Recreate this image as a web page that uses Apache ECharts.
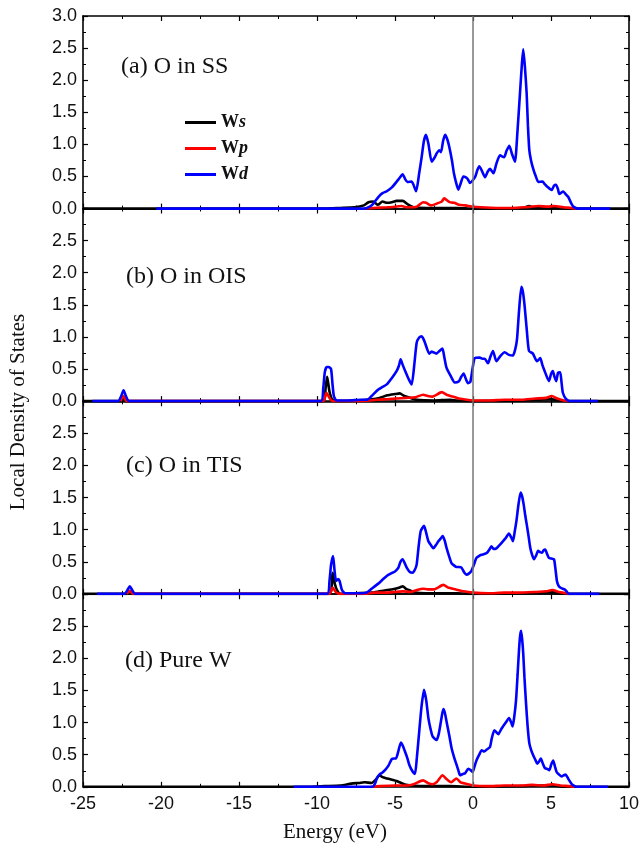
<!DOCTYPE html>
<html>
<head>
<meta charset="utf-8">
<title>Local Density of States</title>
<script src="https://cdn.jsdelivr.net/npm/echarts@6.0.0/dist/echarts.min.js"></script>
<style>
  html, body { margin: 0; padding: 0; background: #fff; }
  #chart { width: 642px; height: 847px; }
</style>
</head>
<body>
<div id="chart"></div>
<script>
// energy range (eV) and y range shared by all four panels
const energyRange = [-25, 10]
const dosRange = [0, 3]
const orbitals = ['Ws', 'Wp', 'Wd']
const panelLabels = ['(a) O in SS', '(b) O in OIS', '(c) O in TIS', '(d) Pure W']

// (a) O in SS  -- [energy, dos]
const ssWs = [[-25, 0], [-9.5, 0], [-8.5, 0.01], [-7.6, 0.02], [-7.0, 0.05], [-6.7, 0.1], [-6.4, 0.11], [-6.1, 0.06], [-5.8, 0.11], [-5.5, 0.09], [-5.2, 0.1], [-4.9, 0.12], [-4.5, 0.12], [-4.2, 0.07], [-3.8, 0.02], [-3.0, 0.01], [-1, 0.01], [0, 0], [3.2, 0.01], [3.6, 0.04], [3.9, 0.01], [5, 0.01], [6, 0], [10, 0]]
const ssWp = [[-7, 0], [-6.4, 0.01], [-5.5, 0.02], [-5.0, 0.03], [-4.6, 0.04], [-4.2, 0.02], [-3.6, 0.03], [-3.2, 0.1], [-3.0, 0.09], [-2.7, 0.05], [-2.4, 0.07], [-2.0, 0.11], [-1.85, 0.16], [-1.5, 0.1], [-1.2, 0.09], [-0.9, 0.06], [-0.5, 0.05], [0, 0.03], [0.5, 0.02], [1.5, 0.01], [2.5, 0.01], [3.3, 0.02], [3.7, 0.03], [4.2, 0.04], [4.8, 0.03], [5.2, 0.04], [5.8, 0.02], [6.3, 0.01], [6.6, 0]]
const ssWd = [[-20.3, 0], [-7.0, 0], [-6.8, 0.01], [-6.5, 0.05], [-6.07, 0.18], [-5.8, 0.24], [-5.53, 0.27], [-5.2, 0.33], [-4.89, 0.42], [-4.7, 0.48], [-4.51, 0.535], [-4.35, 0.46], [-4.21, 0.415], [-3.93, 0.42], [-3.65, 0.27], [-3.45, 0.55], [-3.29, 0.805], [-3.15, 1.05], [-3.01, 1.15], [-2.85, 1.0], [-2.65, 0.73], [-2.45, 0.8], [-2.33, 0.86], [-2.16, 0.91], [-2.05, 0.88], [-1.92, 1.05], [-1.79, 1.15], [-1.65, 1.08], [-1.52, 0.96], [-1.35, 0.75], [-1.22, 0.545], [-1.08, 0.4], [-0.94, 0.295], [-0.78, 0.4], [-0.62, 0.5], [-0.48, 0.49], [-0.34, 0.46], [-0.19, 0.4], [0.13, 0.49], [0.28, 0.6], [0.40, 0.66], [0.55, 0.6], [0.77, 0.49], [0.95, 0.58], [1.09, 0.62], [1.31, 0.55], [1.5, 0.7], [1.73, 0.83], [1.99, 0.8], [2.15, 0.9], [2.33, 0.98], [2.5, 0.85], [2.69, 0.73], [2.85, 1.2], [3.01, 1.79], [3.12, 2.2], [3.22, 2.48], [3.33, 2.2], [3.44, 1.79], [3.52, 1.3], [3.61, 0.91], [3.72, 0.75], [3.86, 0.62], [4.0, 0.52], [4.19, 0.415], [4.46, 0.42], [4.6, 0.38], [4.76, 0.34], [5.04, 0.29], [5.2, 0.36], [5.32, 0.37], [5.45, 0.3], [5.53, 0.23], [5.79, 0.265], [5.95, 0.22], [6.11, 0.18], [6.3, 0.08], [6.43, 0.03], [6.75, 0], [8.8, 0]]

// (b) O in OIS
const oisWs = [[-25, 0], [-22.5, 0], [-22.37, 0.03], [-22.25, 0], [-9.6, 0], [-9.45, 0.2], [-9.35, 0.38], [-9.2, 0.15], [-9.0, 0.02], [-8.5, 0], [-7.5, 0.01], [-6.5, 0.03], [-6.0, 0.05], [-5.5, 0.09], [-5.0, 0.11], [-4.7, 0.12], [-4.4, 0.08], [-4.0, 0.05], [-3.6, 0.02], [-2.5, 0.01], [-1.5, 0.02], [-1, 0.01], [0, 0], [3, 0.01], [4, 0.02], [5, 0.03], [5.5, 0.01], [6, 0], [10, 0]]
const oisWp = [[-22.6, 0], [-22.4, 0.08], [-22.2, 0], [-9.6, 0], [-9.4, 0.13], [-9.2, 0.05], [-9.0, 0], [-7, 0], [-6.2, 0.02], [-5.5, 0.03], [-4.9, 0.04], [-4.3, 0.05], [-3.7, 0.06], [-3.2, 0.1], [-2.9, 0.08], [-2.6, 0.07], [-2.0, 0.14], [-1.7, 0.1], [-1.3, 0.07], [-0.9, 0.04], [-0.4, 0.02], [0, 0.01], [1, 0.01], [2, 0.02], [3, 0.02], [4, 0.04], [4.7, 0.05], [5.05, 0.08], [5.4, 0.04], [5.8, 0.01], [6.1, 0]]
const oisWd = [[-24.4, 0], [-22.75, 0], [-22.55, 0.08], [-22.4, 0.17], [-22.25, 0.08], [-22.05, 0], [-9.75, 0], [-9.6, 0.2], [-9.5, 0.45], [-9.38, 0.53], [-9.25, 0.53], [-9.1, 0.5], [-9.0, 0.25], [-8.92, 0.08], [-8.75, 0.01], [-8.0, 0.01], [-7.2, 0.02], [-6.8, 0.02], [-6.5, 0.08], [-6.07, 0.18], [-5.8, 0.22], [-5.53, 0.26], [-5.2, 0.36], [-4.89, 0.47], [-4.75, 0.55], [-4.64, 0.65], [-4.5, 0.56], [-4.3, 0.44], [-4.1, 0.33], [-3.93, 0.26], [-3.75, 0.6], [-3.61, 0.91], [-3.45, 0.99], [-3.29, 1.01], [-3.18, 0.97], [-3.08, 0.91], [-2.8, 0.74], [-2.65, 0.77], [-2.54, 0.76], [-2.35, 0.74], [-2.15, 0.78], [-1.96, 0.82], [-1.85, 0.7], [-1.7, 0.52], [-1.45, 0.4], [-1.17, 0.29], [-0.9, 0.31], [-0.75, 0.38], [-0.6, 0.43], [-0.45, 0.34], [-0.32, 0.28], [-0.17, 0.3], [0.0, 0.55], [0.11, 0.67], [0.43, 0.68], [0.6, 0.66], [0.75, 0.66], [0.96, 0.59], [1.1, 0.68], [1.28, 0.78], [1.5, 0.62], [1.75, 0.7], [2.03, 0.76], [2.3, 0.72], [2.56, 0.71], [2.7, 0.8], [2.82, 0.96], [2.95, 1.4], [3.1, 1.78], [3.2, 1.7], [3.31, 1.48], [3.45, 1.1], [3.59, 0.78], [3.84, 0.74], [4.1, 0.62], [4.31, 0.67], [4.45, 0.56], [4.59, 0.47], [4.87, 0.31], [5.0, 0.42], [5.12, 0.47], [5.22, 0.38], [5.33, 0.31], [5.45, 0.44], [5.59, 0.45], [5.68, 0.28], [5.76, 0.13], [5.97, 0.03], [6.2, 0], [8.0, 0]]

// (c) O in TIS
const tisWs = [[-25, 0], [-22.1, 0], [-22.0, 0.02], [-21.9, 0], [-9.2, 0], [-9.0, 0.33], [-8.85, 0.15], [-8.7, 0.05], [-8.5, 0], [-7.5, 0.01], [-6.5, 0.02], [-6.0, 0.04], [-5.5, 0.06], [-5.0, 0.08], [-4.7, 0.1], [-4.5, 0.12], [-4.3, 0.08], [-4.0, 0.05], [-3.7, 0.02], [-3.0, 0.01], [-2, 0.01], [-1, 0.01], [0, 0], [3, 0.01], [4, 0.02], [5, 0.03], [5.5, 0.01], [6, 0], [10, 0]]
const tisWp = [[-22.2, 0], [-22.0, 0.05], [-21.8, 0], [-9.2, 0], [-9.0, 0.1], [-8.8, 0.03], [-8.5, 0], [-7, 0], [-6.3, 0.02], [-5.5, 0.02], [-5.0, 0.03], [-4.5, 0.04], [-4.0, 0.03], [-3.6, 0.06], [-3.2, 0.08], [-2.9, 0.07], [-2.5, 0.07], [-1.9, 0.14], [-1.6, 0.1], [-1.1, 0.07], [-0.6, 0.04], [0, 0.02], [1, 0.01], [2, 0.02], [3, 0.02], [4, 0.03], [4.7, 0.04], [5.1, 0.06], [5.5, 0.03], [6, 0.01], [6.2, 0]]
const tisWd = [[-24.1, 0], [-22.35, 0], [-22.15, 0.06], [-22.0, 0.12], [-21.85, 0.06], [-21.65, 0], [-9.35, 0], [-9.2, 0.2], [-9.1, 0.45], [-8.97, 0.59], [-8.87, 0.35], [-8.78, 0.2], [-8.65, 0.23], [-8.55, 0.2], [-8.4, 0.06], [-8.2, 0.01], [-7.2, 0.01], [-6.83, 0.02], [-6.5, 0.08], [-6.07, 0.16], [-5.8, 0.22], [-5.53, 0.28], [-5.25, 0.32], [-5.0, 0.35], [-4.78, 0.41], [-4.65, 0.5], [-4.51, 0.54], [-4.38, 0.48], [-4.25, 0.41], [-4.05, 0.34], [-3.87, 0.33], [-3.72, 0.38], [-3.61, 0.46], [-3.48, 0.75], [-3.35, 0.98], [-3.14, 1.06], [-3.0, 0.95], [-2.86, 0.82], [-2.7, 0.76], [-2.54, 0.71], [-2.38, 0.76], [-2.22, 0.82], [-2.08, 0.86], [-1.94, 0.9], [-1.8, 0.82], [-1.7, 0.72], [-1.55, 0.6], [-1.38, 0.48], [-1.2, 0.44], [-1.06, 0.42], [-0.9, 0.42], [-0.74, 0.41], [-0.55, 0.33], [-0.42, 0.3], [-0.25, 0.32], [-0.1, 0.36], [0.05, 0.45], [0.22, 0.56], [0.38, 0.59], [0.54, 0.61], [0.72, 0.62], [0.9, 0.64], [1.05, 0.69], [1.18, 0.74], [1.32, 0.7], [1.5, 0.71], [1.7, 0.76], [1.92, 0.82], [2.1, 0.87], [2.3, 0.94], [2.45, 0.88], [2.56, 0.82], [2.68, 0.98], [2.78, 1.13], [2.92, 1.4], [3.05, 1.58], [3.15, 1.52], [3.25, 1.39], [3.35, 1.22], [3.46, 1.06], [3.56, 0.9], [3.67, 0.72], [3.8, 0.6], [3.91, 0.54], [4.05, 0.6], [4.17, 0.67], [4.3, 0.65], [4.42, 0.64], [4.53, 0.68], [4.63, 0.69], [4.75, 0.62], [4.87, 0.56], [5.03, 0.55], [5.19, 0.54], [5.28, 0.4], [5.38, 0.2], [5.48, 0.13], [5.59, 0.1], [5.75, 0.08], [5.87, 0.07], [6.0, 0.04], [6.14, 0], [8.1, 0]]

// (d) Pure W
const pureWs = [[-25, 0], [-10.5, 0], [-9.5, 0.01], [-8.5, 0.02], [-7.8, 0.05], [-7.3, 0.06], [-6.95, 0.07], [-6.5, 0.06], [-6.2, 0.12], [-6.0, 0.18], [-5.8, 0.15], [-5.5, 0.13], [-5.2, 0.11], [-4.9, 0.09], [-4.6, 0.06], [-4.3, 0.03], [-4.0, 0.02], [-3, 0.01], [-1.5, 0.01], [0, 0], [3, 0.01], [4, 0.02], [5, 0.02], [5.5, 0.01], [6, 0], [10, 0]]
const pureWp = [[-6.5, 0], [-6, 0.01], [-5, 0.02], [-4.3, 0.02], [-3.8, 0.04], [-3.2, 0.1], [-2.9, 0.06], [-2.6, 0.04], [-2.3, 0.08], [-1.95, 0.18], [-1.7, 0.12], [-1.4, 0.07], [-1.06, 0.13], [-0.8, 0.07], [-0.5, 0.05], [0, 0.02], [1, 0.01], [2, 0.02], [3, 0.02], [3.8, 0.03], [4.5, 0.02], [5.1, 0.04], [5.6, 0.02], [6.2, 0.01], [6.5, 0]]
const pureWd = [[-11.5, 0], [-6.45, 0], [-6.28, 0.05], [-6.15, 0.14], [-6.0, 0.19], [-5.82, 0.22], [-5.64, 0.26], [-5.42, 0.33], [-5.21, 0.43], [-5.05, 0.44], [-4.94, 0.44], [-4.78, 0.56], [-4.62, 0.69], [-4.5, 0.64], [-4.36, 0.55], [-4.2, 0.44], [-4.08, 0.34], [-3.9, 0.25], [-3.72, 0.2], [-3.6, 0.45], [-3.44, 0.88], [-3.3, 1.25], [-3.14, 1.51], [-3.0, 1.35], [-2.86, 1.07], [-2.72, 0.9], [-2.58, 0.78], [-2.33, 0.73], [-2.2, 0.82], [-2.11, 0.94], [-2.0, 1.1], [-1.9, 1.21], [-1.8, 1.15], [-1.69, 1.01], [-1.52, 0.8], [-1.37, 0.6], [-1.2, 0.45], [-1.05, 0.34], [-0.93, 0.25], [-0.83, 0.18], [-0.65, 0.2], [-0.51, 0.21], [-0.3, 0.28], [-0.15, 0.26], [-0.02, 0.23], [0.1, 0.32], [0.24, 0.42], [0.4, 0.5], [0.56, 0.57], [0.72, 0.55], [0.88, 0.58], [1.09, 0.62], [1.2, 0.75], [1.37, 0.88], [1.5, 0.85], [1.63, 0.82], [1.77, 0.88], [1.9, 0.93], [2.1, 1.0], [2.31, 1.07], [2.45, 1.0], [2.54, 0.94], [2.65, 1.1], [2.76, 1.35], [2.86, 1.75], [2.95, 2.13], [3.02, 2.35], [3.08, 2.43], [3.15, 2.3], [3.22, 2.08], [3.3, 1.7], [3.4, 1.3], [3.5, 0.95], [3.61, 0.68], [3.73, 0.57], [3.86, 0.49], [4.0, 0.42], [4.12, 0.36], [4.25, 0.4], [4.35, 0.44], [4.48, 0.36], [4.61, 0.29], [4.75, 0.28], [4.89, 0.26], [5.02, 0.35], [5.14, 0.41], [5.25, 0.32], [5.36, 0.23], [5.52, 0.19], [5.68, 0.16], [5.82, 0.18], [5.94, 0.19], [6.05, 0.15], [6.17, 0.1], [6.28, 0.06], [6.38, 0.03], [6.64, 0], [8.65, 0]]

const panelData = [
  [ssWs, ssWp, ssWd],
  [oisWs, oisWp, oisWd],
  [tisWs, tisWp, tisWd],
  [pureWs, pureWp, pureWd]
]

// layout
const gridTops = [16, 208.5, 401.3, 594.2]
const gridHeight = 192.6
const labelPos = [[121, 67], [126, 277], [126, 466], [125, 661]]
const lineColors = ['#000000', '#ff0000', '#0000ff']

const serif = '"Liberation Serif", "Times New Roman", serif'
const sans = '"Liberation Sans", Arial, sans-serif'

const frameLine = { show: true, onZero: false, lineStyle: { color: '#000', width: 1.6 } }
const tick = { show: true, inside: true, length: 5, lineStyle: { color: '#000', width: 1.2 } }
const minor = { show: true, splitNumber: 2, length: 3, lineStyle: { color: '#000', width: 1 } }

const grid = []
const xAxis = []
const yAxis = []
const series = []
const graphic = []

panelData.forEach((lines, i) => {
  grid.push({ left: 83, right: 13, top: gridTops[i], height: gridHeight })
  const last = i === panelData.length - 1
  xAxis.push({
    type: 'value', gridIndex: i, position: 'bottom',
    min: energyRange[0], max: energyRange[1], interval: 5,
    axisLine: frameLine, axisTick: tick, minorTick: minor,
    splitLine: { show: false },
    axisLabel: { show: last, margin: 8, color: '#111', fontSize: 18, fontFamily: sans }
  })
  xAxis.push({
    type: 'value', gridIndex: i, position: 'top',
    min: energyRange[0], max: energyRange[1], interval: 5,
    axisLine: frameLine, axisTick: tick, minorTick: minor,
    splitLine: { show: false }, axisLabel: { show: false }
  })
  yAxis.push({
    type: 'value', gridIndex: i, position: 'left',
    min: dosRange[0], max: dosRange[1], interval: 0.5,
    axisLine: frameLine, axisTick: tick, minorTick: minor,
    splitLine: { show: false },
    axisLabel: {
      margin: 6, color: '#111', fontSize: 18, fontFamily: sans,
      showMaxLabel: i === 0,
      formatter: v => v.toFixed(1)
    }
  })
  yAxis.push({
    type: 'value', gridIndex: i, position: 'right',
    min: dosRange[0], max: dosRange[1], interval: 0.5,
    axisLine: frameLine, axisTick: tick, minorTick: minor,
    splitLine: { show: false }, axisLabel: { show: false }
  })
  lines.forEach((data, k) => {
    const s = {
      name: orbitals[k],
      type: 'line',
      xAxisIndex: i * 2,
      yAxisIndex: i * 2,
      data: data,
      symbol: 'none',
      smooth: 0.2,
      z: 2 + k,
      lineStyle: { color: lineColors[k], width: 2.6 },
      itemStyle: { color: lineColors[k] }
    }
    if (k === 2) {
      // Fermi level
      s.markLine = {
        silent: true, symbol: 'none', label: { show: false },
        lineStyle: { color: '#777', width: 1.5, type: 'solid' },
        data: [{ xAxis: 0 }]
      }
    }
    series.push(s)
  })
  graphic.push({
    type: 'text', x: labelPos[i][0], y: labelPos[i][1],
    style: { text: panelLabels[i], font: '24px ' + serif, fill: '#111', verticalAlign: 'middle' }
  })
})

graphic.push({
  type: 'text', x: 335, y: 832,
  style: { text: 'Energy (eV)', font: '21px ' + serif, fill: '#111', align: 'center', verticalAlign: 'middle' }
})
graphic.push({
  type: 'text', x: 18, y: 412, rotation: Math.PI / 2,
  style: { text: 'Local Density of States', font: '21px ' + serif, fill: '#111', align: 'center', verticalAlign: 'middle' }
})

const option = {
  animation: false,
  backgroundColor: '#fff',
  grid,
  xAxis,
  yAxis,
  series,
  graphic,
  legend: {
    data: orbitals.map(n => ({ name: n, icon: 'rect' })),
    orient: 'vertical',
    left: 180,
    top: 108,
    itemWidth: 31,
    itemHeight: 3,
    itemGap: 7,
    formatter: name => 'W{i|' + name.slice(1) + '}',
    textStyle: {
      fontFamily: serif, fontSize: 18, fontWeight: 'bold', color: '#111', lineHeight: 19,
      rich: { i: { fontFamily: serif, fontSize: 18, fontWeight: 'bold', fontStyle: 'italic', color: '#111', lineHeight: 19 } }
    }
  }
}

const chart = echarts.init(document.getElementById('chart'))
chart.setOption(option)
</script>
</body>
</html>
